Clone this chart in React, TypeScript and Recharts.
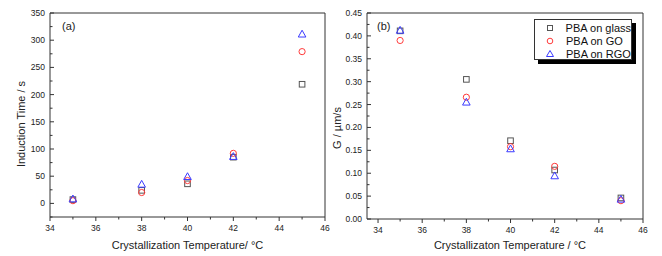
import React from "react";
import { ScatterChart, Scatter, XAxis, YAxis, Label, Legend } from "recharts";

// crystallization temperatures (°C)
const temps = [35, 38, 40, 42, 45];

// (a) induction time, s
const inductionGlass = [7, 24, 36, 85, 219];
const inductionGO = [5, 20, 42, 92, 279];
const inductionRGO = [8, 35, 49, 86, 311];

// (b) growth rate G, µm/s
const growthGlass = [0.411, 0.305, 0.171, 0.107, 0.046];
const growthGO = [0.39, 0.266, 0.158, 0.115, 0.04];
const growthRGO = [0.412, 0.255, 0.153, 0.094, 0.043];

const seriesNames = ["PBA on glass", "PBA on GO", "PBA on RGO"];

const xTicksA = [34, 35, 36, 37, 38, 39, 40, 41, 42, 43, 44, 45, 46];
const xTicksB = [34, 35, 36, 37, 38, 39, 40, 41, 42, 43, 44, 45, 46];
const yTicksA = [-25, 0, 25, 50, 75, 100, 125, 150, 175, 200, 225, 250, 275, 300, 325, 350];
const yTicksB = [0, 0.025, 0.05, 0.075, 0.1, 0.125, 0.15, 0.175, 0.2, 0.225, 0.25, 0.275, 0.3, 0.325, 0.35, 0.375, 0.4, 0.425, 0.45];

const FONT = "'Liberation Sans', Arial, sans-serif";
const AXIS = "#333";
const C_GLASS = "#555";
const C_GO = "#ff3b3b";
const C_RGO = "#3b3bff";

const toPoints = (ys: number[]) => temps.map((t, i) => ({ x: t, y: ys[i] }));

// hollow markers
const SquareMark = (p: any) => (
  <rect x={p.cx - 2.8} y={p.cy - 2.8} width={5.6} height={5.6} fill="none" stroke={C_GLASS} strokeWidth={1} />
);
const CircleMark = (p: any) => <circle cx={p.cx} cy={p.cy} r={3.1} fill="none" stroke={C_GO} strokeWidth={1} />;
const TriangleMark = (p: any) => (
  <path
    d={`M${p.cx},${p.cy - 4} L${p.cx + 3.8},${p.cy + 2.8} L${p.cx - 3.8},${p.cy + 2.8} Z`}
    fill="none"
    stroke={C_RGO}
    strokeWidth={1}
  />
);

// bottom axis ticks point outward, labels on even degrees only
const XTick = (p: any) => {
  const v = p.payload.value;
  const major = v % 2 === 0;
  return (
    <g>
      <line x1={p.x} x2={p.x} y1={p.y} y2={p.y + (major ? 4 : 2.5)} stroke={AXIS} />
      {major && (
        <text x={p.x} y={p.y + 14} textAnchor="middle" fontSize={8.5} fontFamily={FONT} fill="#222">
          {v}
        </text>
      )}
    </g>
  );
};

// left axis ticks point inward
const makeYTick = (isMajor: (v: number) => boolean, fmt: (v: number) => string) =>
  (p: any) => {
    const v = p.payload.value;
    const major = isMajor(v);
    return (
      <g>
        <line x1={p.x} x2={p.x + (major ? 4 : 2.5)} y1={p.y} y2={p.y} stroke={AXIS} />
        {major && (
          <text x={p.x - 5} y={p.y + 3} textAnchor="end" fontSize={8.5} fontFamily={FONT} fill="#222">
            {fmt(v)}
          </text>
        )}
      </g>
    );
  };

const YTickA = makeYTick((v) => v % 50 === 0, (v) => String(v));
const YTickB = makeYTick((v) => Math.round(v * 1000) % 50 === 0, (v) => v.toFixed(2));

const LegendBox = () => {
  const marks = [
    <rect key="s" x={2.5} y={2.5} width={5} height={5} fill="none" stroke={C_GLASS} />,
    <circle key="c" cx={5} cy={5} r={2.8} fill="none" stroke={C_GO} />,
    <path key="t" d="M5,1.5 L8.5,7.5 L1.5,7.5 Z" fill="none" stroke={C_RGO} />,
  ];
  return (
    <div
      style={{
        width: 98,
        height: 41,
        boxSizing: "border-box",
        border: `1px solid ${AXIS}`,
        background: "#fff",
        boxShadow: "4px 4px 0 #000",
        paddingTop: 1,
        fontFamily: FONT,
        fontSize: 11,
        color: "#111",
      }}
    >
      {seriesNames.map((name, i) => (
        <div key={name} style={{ display: "flex", alignItems: "center", height: 13 }}>
          <svg width={10} height={10} style={{ marginLeft: 10 }}>
            {marks[i]}
          </svg>
          <span style={{ marginLeft: 11, whiteSpace: "nowrap" }}>{name}</span>
        </div>
      ))}
    </div>
  );
};

export default function App() {
  return (
    <div style={{ position: "absolute", left: 0, top: 0, width: 662, height: 256, background: "#fff", fontFamily: FONT }}>
      <div style={{ position: "absolute", left: 0, top: 0 }}>
        <ScatterChart width={330} height={256} margin={{ top: 12, right: 4, bottom: 38, left: 49 }}>
          <XAxis
            dataKey="x"
            type="number"
            domain={[34, 46]}
            ticks={xTicksA}
            interval={0}
            height={1}
            tickSize={0}
            tickMargin={0}
            tickLine={false}
            axisLine={{ stroke: AXIS }}
            tick={XTick}
          >
            <Label
              content={(p: any) => (
                <text x={p.viewBox.x + p.viewBox.width / 2} y={p.viewBox.y + 32} textAnchor="middle" fontSize={11} fontFamily={FONT} fill="#222">
                  Crystallization Temperature/ °C
                </text>
              )}
            />
          </XAxis>
          <YAxis
            dataKey="y"
            type="number"
            domain={[-25, 350]}
            ticks={yTicksA}
            interval={0}
            width={1}
            tickSize={0}
            tickMargin={0}
            tickLine={false}
            axisLine={{ stroke: AXIS }}
            tick={YTickA}
          >
            <Label
              content={(p: any) => {
                const cx = p.viewBox.x + p.viewBox.width - 29;
                const cy = p.viewBox.y + p.viewBox.height / 2 + 9;
                return (
                  <text x={cx} y={cy} transform={`rotate(-90 ${cx} ${cy})`} dy={4} textAnchor="middle" fontSize={11} fontFamily={FONT} fill="#222">
                    Induction Time / s
                  </text>
                );
              }}
            />
          </YAxis>
          <XAxis xAxisId="top" orientation="top" type="number" domain={[34, 46]} height={1} tick={false} tickLine={false} axisLine={{ stroke: AXIS }}>
            <Label
              content={(p: any) => (
                <text x={p.viewBox.x + 12} y={p.viewBox.y + 18} fontSize={11} fontFamily={FONT} fill="#222">
                  (a)
                </text>
              )}
            />
          </XAxis>
          <YAxis yAxisId="right" orientation="right" type="number" domain={[-25, 350]} width={1} tick={false} tickLine={false} axisLine={{ stroke: AXIS }} />
          <Scatter name={seriesNames[0]} data={toPoints(inductionGlass)} shape={SquareMark} isAnimationActive={false} />
          <Scatter name={seriesNames[1]} data={toPoints(inductionGO)} shape={CircleMark} isAnimationActive={false} />
          <Scatter name={seriesNames[2]} data={toPoints(inductionRGO)} shape={TriangleMark} isAnimationActive={false} />
        </ScatterChart>
      </div>
      <div style={{ position: "absolute", left: 330, top: 0 }}>
        <ScatterChart width={332} height={256} margin={{ top: 12, right: 18, bottom: 36, left: 36 }}>
          <XAxis
            dataKey="x"
            type="number"
            domain={[33.5, 46]}
            ticks={xTicksB}
            interval={0}
            height={1}
            tickSize={0}
            tickMargin={0}
            tickLine={false}
            axisLine={{ stroke: AXIS }}
            tick={XTick}
          >
            <Label
              content={(p: any) => (
                <text x={p.viewBox.x + p.viewBox.width / 2 + 5} y={p.viewBox.y + 30} textAnchor="middle" fontSize={11} fontFamily={FONT} fill="#222">
                  Crystallizaton Temperature / °C
                </text>
              )}
            />
          </XAxis>
          <YAxis
            dataKey="y"
            type="number"
            domain={[0, 0.45]}
            ticks={yTicksB}
            interval={0}
            width={1}
            tickSize={0}
            tickMargin={0}
            tickLine={false}
            axisLine={{ stroke: AXIS }}
            tick={YTickB}
          >
            <Label
              content={(p: any) => {
                const cx = p.viewBox.x + p.viewBox.width - 30;
                const cy = p.viewBox.y + p.viewBox.height / 2 + 12;
                return (
                  <text x={cx} y={cy} transform={`rotate(-90 ${cx} ${cy})`} dy={4} textAnchor="middle" fontSize={11} fontFamily={FONT} fill="#222">
                    G / µm/s
                  </text>
                );
              }}
            />
          </YAxis>
          <XAxis xAxisId="top" orientation="top" type="number" domain={[33.5, 46]} height={1} tick={false} tickLine={false} axisLine={{ stroke: AXIS }}>
            <Label
              content={(p: any) => (
                <text x={p.viewBox.x + 10} y={p.viewBox.y + 18} fontSize={11} fontFamily={FONT} fill="#222">
                  (b)
                </text>
              )}
            />
          </XAxis>
          <YAxis yAxisId="right" orientation="right" type="number" domain={[0, 0.45]} width={1} tick={false} tickLine={false} axisLine={{ stroke: AXIS }} />
          <Legend
            layout="vertical"
            align="center"
            verticalAlign="middle"
            content={() => <LegendBox />}
            wrapperStyle={{ position: "absolute", left: 204, top: 19, width: "auto", height: "auto" }}
          />
          <Scatter name={seriesNames[0]} data={toPoints(growthGlass)} shape={SquareMark} isAnimationActive={false} />
          <Scatter name={seriesNames[1]} data={toPoints(growthGO)} shape={CircleMark} isAnimationActive={false} />
          <Scatter name={seriesNames[2]} data={toPoints(growthRGO)} shape={TriangleMark} isAnimationActive={false} />
        </ScatterChart>
      </div>
    </div>
  );
}
